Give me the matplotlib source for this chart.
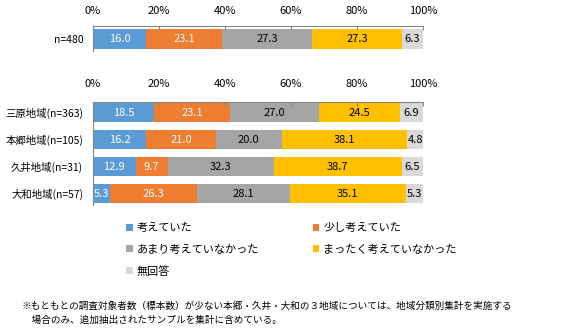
import numpy as np
import matplotlib.pyplot as plt

plt.rcParams['font.family'] = ['Noto Sans CJK JP', 'DejaVu Sans']

series = ['考えていた', '少し考えていた', 'あまり考えていなかった', 'まったく考えていなかった', '無回答']
colors = ['#5B9BD5', '#ED7D31', '#A5A5A5', '#FFC000', '#D9D9D9']
txt_colors = ['white', 'white', 'black', 'black', 'black']

total_label = ['n=480']
total_vals = [[16.0, 23.1, 27.3, 27.3, 6.3]]

regions = ['三原地域(n=363)', '本郷地域(n=105)', '久井地域(n=31)', '大和地域(n=57)']
region_vals = [
    [18.5, 23.1, 27.0, 24.5, 6.9],
    [16.2, 21.0, 20.0, 38.1, 4.8],
    [12.9, 9.7, 32.3, 38.7, 6.5],
    [5.3, 26.3, 28.1, 35.1, 5.3],
]

note = ('※もともとの調査対象者数（標本数）が少ない本郷・久井・大和の３地域については、地域分類別集計を実施する\n'
        '　場合のみ、追加抽出されたサンプルを集計に含めている。')

W, H = 580, 333
fig = plt.figure(figsize=(W / 100, H / 100), dpi=100)


def px_axes(x0, y0, x1, y1):
    return fig.add_axes([x0 / W, 1 - y1 / H, (x1 - x0) / W, (y1 - y0) / H])


def stacked(ax, labels, vals, xpad):
    vals = np.array(vals)
    pct = vals / vals.sum(axis=1, keepdims=True) * 100
    y = np.arange(len(labels))
    left = np.zeros(len(labels))
    handles = []
    for j in range(len(series)):
        b = ax.barh(y, pct[:, j], left=left, height=0.72, color=colors[j],
                    label=series[j], edgecolor='none')
        handles.append(b)
        for i in range(len(labels)):
            ax.text(left[i] + pct[i, j] / 2, y[i], f'{vals[i, j]:.1f}',
                    ha='center', va='center', fontsize=8, color=txt_colors[j])
        left += pct[:, j]
    ax.set_xlim(0, 100)
    ax.set_ylim(len(labels) - 1 + 0.42, -0.4)
    ax.set_yticks(y)
    ax.set_yticklabels(labels, fontsize=7.5)
    ax.set_xticks(np.arange(0, 101, 20))
    ax.set_xticklabels([f'{v}%' for v in range(0, 101, 20)], fontsize=8)
    ax.xaxis.tick_top()
    ax.tick_params(axis='x', direction='in', length=3, pad=xpad, color='#868686')
    ax.tick_params(axis='y', length=0, pad=7)
    for s in ['right', 'bottom']:
        ax.spines[s].set_visible(False)
    for s in ['top', 'left']:
        ax.spines[s].set_color('#868686')
        ax.spines[s].set_linewidth(0.8)
    return handles


ax1 = px_axes(93, 26, 423, 51)
stacked(ax1, total_label, total_vals, 7.5)
ax1.set_ylim(0.45, -0.47)

ax2 = px_axes(93, 102, 423, 205)
handles = stacked(ax2, regions, region_vals, 9.5)

order = [0, 2, 4, 1, 3]
fig.legend([handles[i] for i in order], [series[i] for i in order],
           ncol=2, loc='upper left', bbox_to_anchor=(126 / W, 1 - 223 / H),
           frameon=False, fontsize=8, handlelength=0.6, handleheight=0.6,
           handletextpad=0.35, columnspacing=4.85, labelspacing=1.0,
           borderaxespad=0, borderpad=0)

fig.text(22 / W, 1 - 301 / H, note, fontsize=6.9, va='top', ha='left', linespacing=1.7)

fig.savefig('out.png', dpi=100)
